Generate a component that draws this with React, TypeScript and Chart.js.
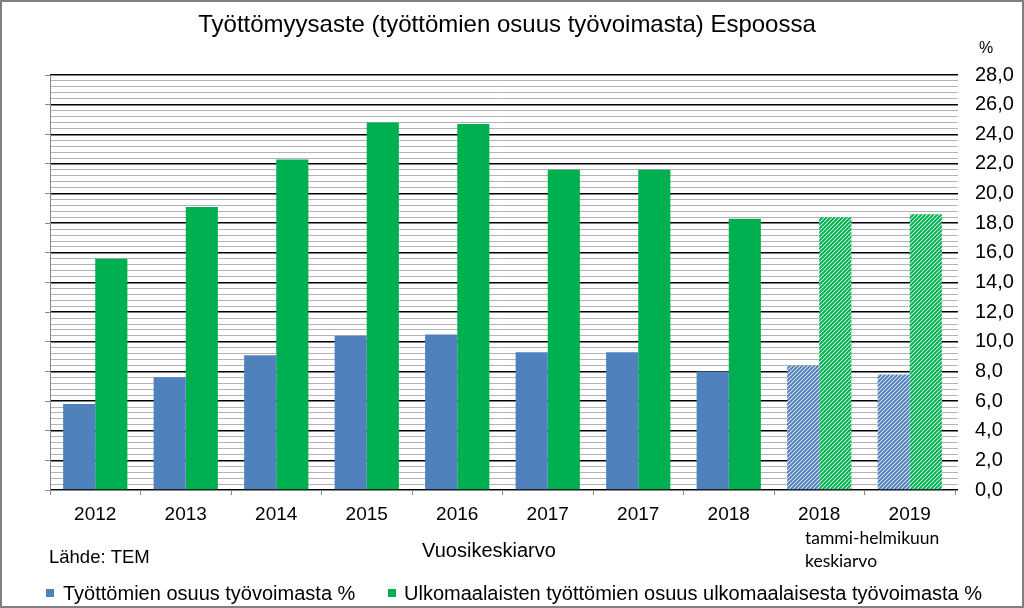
import React, { useEffect, useRef } from 'react';
import { Chart, registerables } from 'chart.js';

Chart.register(...registerables);

// ---- data ----
const categories = ['2012', '2013', '2014', '2015', '2016', '2017', '2017', '2018', '2018', '2019'];
const totalRate = [5.8, 7.6, 9.1, 10.4, 10.5, 9.3, 9.3, 8.0, 8.4, 7.8];
const foreignRate = [15.6, 19.1, 22.3, 24.8, 24.7, 21.6, 21.6, 18.3, 18.4, 18.6];
const hatched = [false, false, false, false, false, false, false, false, true, true];
const seriesNames = [
  'Työttömien osuus työvoimasta %',
  'Ulkomaalaisten työttömien osuus ulkomaalaisesta työvoimasta %',
];
const titleText = 'Työttömyysaste (työttömien osuus työvoimasta) Espoossa';
const unitText = '%';
const sourceText = 'Lähde: TEM';
const xTitleText = 'Vuosikeskiarvo';
const noteLines = ['tammi-helmikuun', 'keskiarvo'];
const yMin = 0;
const yMax = 28;
const yMinorStep = 0.4;
const yMajorStep = 2;

const BLUE = '#4F81BD';
const GREEN = '#00B050';
const FONT = '"Liberation Sans", Arial, sans-serif';

function makeHatch(color: string): CanvasPattern | string {
  const c = document.createElement('canvas');
  c.width = 4;
  c.height = 4;
  const x = c.getContext('2d');
  if (!x) return color;
  x.fillStyle = '#ffffff';
  x.fillRect(0, 0, 4, 4);
  x.strokeStyle = color;
  x.lineWidth = 2;
  x.beginPath();
  x.moveTo(0, 4); x.lineTo(4, 0);
  x.moveTo(-1, 1); x.lineTo(1, -1);
  x.moveTo(3, 5); x.lineTo(5, 3);
  x.stroke();
  const p = x.createPattern(c, 'repeat');
  return p || color;
}

function isMajor(v: number): boolean {
  const r = v / yMajorStep;
  return Math.abs(r - Math.round(r)) < 1e-6;
}

const overlayPlugin = {
  id: 'overlay',
  beforeDraw(chart: any) {
    const ctx = chart.ctx as CanvasRenderingContext2D;
    ctx.save();
    ctx.fillStyle = '#ffffff';
    ctx.fillRect(0, 0, chart.width, chart.height);
    ctx.restore();
  },
  afterDraw(chart: any) {
    const ctx = chart.ctx as CanvasRenderingContext2D;
    ctx.save();
    ctx.fillStyle = '#000000';
    ctx.textBaseline = 'alphabetic';

    // title
    ctx.textAlign = 'center';
    ctx.font = `24px ${FONT}`;
    ctx.fillText(titleText, 507, 32);

    // unit
    ctx.font = `16px ${FONT}`;
    ctx.fillText(unitText, 986, 53);

    // x title
    ctx.font = `20px ${FONT}`;
    ctx.fillText(xTitleText, 489, 557);

    // source
    ctx.textAlign = 'left';
    ctx.font = `18.5px ${FONT}`;
    ctx.fillText(sourceText, 49, 563);

    // note
    ctx.font = `17.5px Lato, "Open Sans", sans-serif`;
    ctx.fillText(noteLines[0], 805, 544);
    ctx.fillText(noteLines[1], 805, 567);

    // legend
    ctx.font = `20px ${FONT}`;
    ctx.fillStyle = BLUE;
    ctx.fillRect(46, 589, 8, 8);
    ctx.fillStyle = '#000000';
    ctx.fillText(seriesNames[0], 63, 600);
    ctx.fillStyle = GREEN;
    ctx.fillRect(388, 589, 8, 8);
    ctx.fillStyle = '#000000';
    ctx.fillText(seriesNames[1], 404, 600);

    // outer border
    ctx.strokeStyle = '#808080';
    ctx.lineWidth = 2;
    ctx.strokeRect(1, 1, chart.width - 2, chart.height - 2);
    ctx.restore();
  },
};

export default function App() {
  const ref = useRef<HTMLCanvasElement | null>(null);

  useEffect(() => {
    const canvas = ref.current;
    if (!canvas) return;
    const blueHatch = makeHatch(BLUE);
    const greenHatch = makeHatch(GREEN);
    const chart = new Chart(canvas, {
      type: 'bar',
      data: {
        labels: categories,
        datasets: [
          {
            label: seriesNames[0],
            data: totalRate,
            backgroundColor: hatched.map((h) => (h ? blueHatch : BLUE)) as any,
            borderWidth: 0,
            categoryPercentage: 0.71,
            barPercentage: 1.0,
            yAxisID: 'y',
          },
          {
            label: seriesNames[1],
            data: foreignRate,
            backgroundColor: hatched.map((h) => (h ? greenHatch : GREEN)) as any,
            borderWidth: 0,
            categoryPercentage: 0.71,
            barPercentage: 1.0,
            yAxisID: 'y',
          },
        ],
      },
      options: {
        animation: false,
        responsive: false,
        devicePixelRatio: 1,
        layout: { padding: { top: 75, left: 0, right: 0, bottom: 0 } },
        plugins: {
          legend: { display: false },
          title: { display: false },
          tooltip: { enabled: false },
        },
        scales: {
          x: {
            position: 'bottom',
            grid: {
              offset: true,
              drawOnChartArea: false,
              drawTicks: true,
              tickLength: 5,
              color: '#888888',
            },
            border: { display: true, color: '#888888', width: 1 },
            ticks: {
              color: '#000000',
              font: { family: FONT, size: 19 },
              padding: 8,
              maxRotation: 0,
              autoSkip: false,
            },
            afterFit: (s: any) => {
              s.height = 118;
            },
          },
          yL: {
            position: 'left',
            min: yMin,
            max: yMax,
            ticks: { stepSize: yMajorStep, display: false },
            grid: {
              drawOnChartArea: false,
              drawTicks: true,
              tickLength: 5,
              color: '#888888',
            },
            border: { display: true, color: '#888888', width: 1 },
            afterFit: (s: any) => {
              s.width = 50;
            },
          },
          y: {
            position: 'right',
            min: yMin,
            max: yMax,
            ticks: {
              stepSize: yMinorStep,
              autoSkip: false,
              color: '#000000',
              font: { family: FONT, size: 20 },
              padding: 17,
              callback: (v: any) => {
                const n = Number(v);
                return isMajor(n) ? n.toFixed(1).replace('.', ',') : '';
              },
            },
            grid: {
              drawOnChartArea: true,
              drawTicks: true,
              tickLength: 3,
              color: (c: any) => (c.tick && isMajor(c.tick.value) ? '#000000' : '#b3b3b3'),
              lineWidth: (c: any) => (c.tick && isMajor(c.tick.value) ? 1.5 : 1),
            },
            border: { display: false },
            afterFit: (s: any) => {
              s.width = 69;
            },
          },
        },
      } as any,
      plugins: [overlayPlugin],
    });
    return () => chart.destroy();
  }, []);

  return (
    <div style={{ position: 'absolute', left: 0, top: 0, width: 1024, height: 608 }}>
      <canvas ref={ref} width={1024} height={608} style={{ display: 'block' }} />
    </div>
  );
}
